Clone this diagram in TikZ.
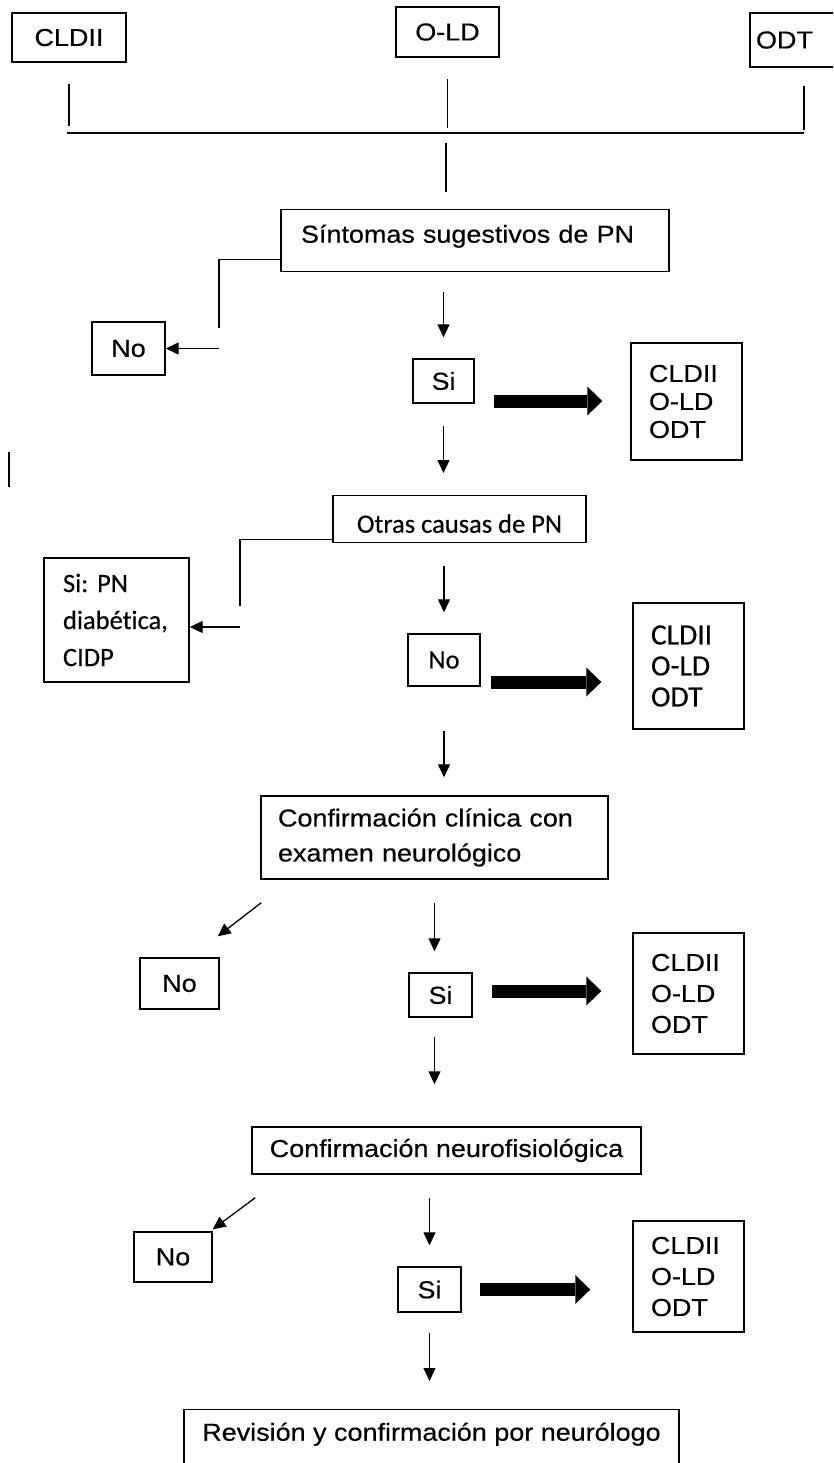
\documentclass[tikz,border=0pt]{standalone}
\usepackage{fontspec}
\setmainfont{Liberation Sans}[FakeStretch=1.1,FakeBold=0.4]
\newfontfamily\calfont{Carlito}[Ligatures=NoCommon,FakeBold=0.4]
\usetikzlibrary{arrows.meta}

\newcommand\txtsz{\fontsize{24.5}{28}\selectfont}
\newcommand\calsz{\calfont\fontsize{26.5}{30}\selectfont}
\frenchspacing

\begin{document}
\begin{tikzpicture}[
  x=1pt, y=-1pt,
  box/.style={draw, line width=1.4pt, inner sep=0pt, align=center, font=\txtsz},
  lst/.style={box, text width=75pt, inner xsep=18pt, align=left},
  ln/.style={line width=1.3pt},
  arr/.style={line width=1.3pt, -{Triangle[length=13pt,width=12pt]}},
  fat/.style={line width=13pt, -{Triangle[length=15pt,width=29pt,line width=0pt]}},
]
\useasboundingbox (0,0) rectangle (833,1463);
\clip (0,0) rectangle (833,1463);

% --- Sources ---
\node[box, minimum width=114pt, minimum height=49pt] (cldA) at (69,37.5) {CLDII};
\node[box, minimum width=103pt, minimum height=50pt] (oldA) at (447.5,32) {O-LD};
\node[box, text width=96pt, inner xsep=6pt, minimum height=54pt, align=left] (odtA) at (804,40) {ODT};
\coordinate (hub) at (446,133);

% --- Step 1 ---
\node[box, anchor=north, text width=348pt, inner xsep=20pt, align=left, text height=33pt, text depth=29pt] (sint) at (475,209) {Síntomas sugestivos de PN};
\node[box, minimum width=73pt, minimum height=53pt] (no1) at (128.5,348.5) {No};
\node[box, minimum width=61pt, minimum height=44pt] (si1) at (443.5,381) {Si};
\node[lst, minimum height=117pt] (lstA) at (686.5,401.5) {CLDII\\O-LD\\ODT};
\coordinate (kneeA) at (219,328);
\coordinate (tick) at (9,452);

% --- Step 2 ---
\node[box, font=\calsz, anchor=north, minimum width=253pt, text height=37pt, text depth=10pt] (otras) at (459.5,495) {Otras causas de PN};
\node[box, font={\calfont\fontsize{26.5}{37}\selectfont}, text width=107pt, inner xsep=19pt, minimum height=124pt, align=left] (sipn) at (116.5,620) {Si: PN\\diabética,\\CIDP};
\node[box, font=\calsz, minimum width=72pt, minimum height=52pt] (no2) at (444,660) {No};
\node[lst, font={\calfont\fontsize{29.5}{31}\selectfont}, minimum height=126pt] (lstB) at (688.5,666) {CLDII\\O-LD\\ODT};
\coordinate (kneeB) at (240,606);

% --- Step 3 ---
\node[box, font={\fontsize{24.5}{35}\selectfont}, text width=313pt, inner xsep=17pt, minimum height=83pt, align=left] (conf1) at (434.5,837.5) {Confirmación clínica con\\examen neurológico};
\node[box, minimum width=79pt, minimum height=51pt] (no3) at (179.5,983.5) {No};
\node[box, minimum width=63pt, minimum height=44pt] (si3) at (440.5,995) {Si};
\node[lst, font={\fontsize{24.5}{31}\selectfont}, minimum height=121pt] (lstC) at (688.5,993.5) {CLDII\\O-LD\\ODT};

% --- Step 4 ---
\node[box, minimum width=389pt, minimum height=47pt] (conf2) at (446.5,1150.5) {Confirmación neurofisiológica};
\node[box, minimum width=78pt, minimum height=50pt] (no4) at (173,1257) {No};
\node[box, minimum width=63pt, minimum height=45pt] (si4) at (429.5,1289.5) {Si};
\node[lst, font={\fontsize{24.5}{31}\selectfont}, minimum height=111pt] (lstD) at (688.5,1276.5) {CLDII\\O-LD\\ODT};

% --- Step 5 ---
\node[box, anchor=north, minimum width=495pt, text height=31pt, text depth=40pt] (rev) at (431.5,1409) {Revisión y confirmación por neurólogo};

% --- Edges ---
\draw[ln, shorten <=21pt, shorten >=7pt] (cldA.south) -- (cldA.south |- hub);
\draw[ln, shorten <=21pt, shorten >=5pt] (oldA.south) -- (oldA.south |- hub);
\draw[ln, shorten <=18pt, shorten >=3pt] (odtA.south) -- (odtA.south |- hub);
\draw[ln, line width=1.7pt] ([xshift=-2pt]cldA.south |- hub) -- (odtA.south |- hub);
\draw[ln, shorten <=10pt, shorten >=17pt] (hub) -- (hub |- sint.north);

\draw[ln] ([yshift=13pt]sint.south west) -| (kneeA);
\draw[arr] (kneeA |- no1.east) -- (no1.east);
\draw[arr, shorten <=20pt, shorten >=21pt] (sint.south -| si1) -- (si1.north);
\draw[fat, shorten <=19pt, shorten >=28pt] ([yshift=-20pt]si1.east) -- ([yshift=-20pt]si1.east -| lstA.west);
\draw[arr, shorten <=22pt, shorten >=22pt] (si1.south) -- (si1.south |- otras.north);
\draw[ln] (tick) -- ++(0,35);

\draw[ln] ([yshift=4pt]otras.south west) -| (kneeB);
\draw[arr] ([yshift=-7pt]sipn.east -| kneeB) -- ([yshift=-7pt]sipn.east);
\draw[arr, shorten <=23pt, shorten >=21pt] (otras.south -| no2) -- (no2.north);
\draw[fat, shorten <=10pt, shorten >=31pt] ([yshift=-22pt]no2.east) -- ([yshift=-22pt]no2.east -| lstB.west);
\draw[arr, shorten <=44pt, shorten >=18pt] (no2.south) -- (no2.south |- conf1.north);

\draw[arr] ([xshift=1pt,yshift=-23pt]conf1.south west) -- ([xshift=-2pt,yshift=21pt]no3.north east);
\draw[arr, shorten <=23pt, shorten >=21pt] (conf1.south) -- (conf1.south |- si3.north);
\draw[fat, shorten <=19pt, shorten >=31pt] ([yshift=4pt]si3.east) -- ([yshift=4pt]si3.east -| lstC.west);
\draw[arr, shorten <=19pt, shorten >=42pt] ([xshift=-6pt]si3.south) -- ([xshift=-6pt]si3.south |- conf2.north);

\draw[arr] ([xshift=4pt,yshift=-23pt]conf2.south west) -- ([yshift=2pt]no4.north east);
\draw[arr, shorten <=23pt, shorten >=21pt] (conf2.south -| si4) -- (si4.north);
\draw[fat, shorten <=18pt, shorten >=42pt] (si4.east) -- (si4.east -| lstD.west);
\draw[arr, shorten <=20pt, shorten >=28pt] (si4.south) -- (si4.south |- rev.north);
\end{tikzpicture}
\end{document}
